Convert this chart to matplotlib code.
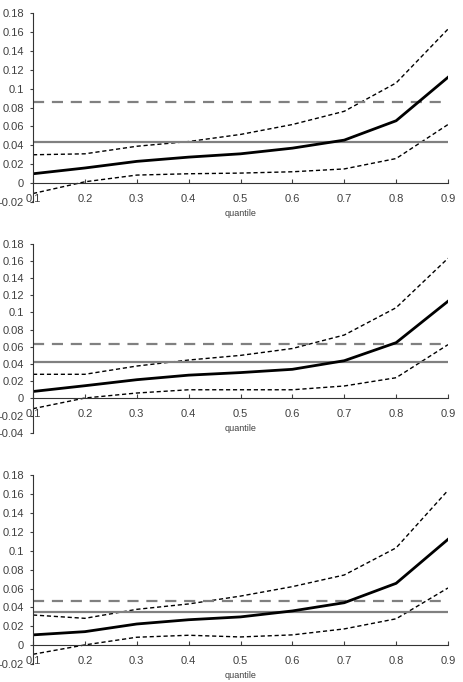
import matplotlib
matplotlib.use("Agg")
import matplotlib.pyplot as plt

plt.rcParams['font.family'] = ['Liberation Sans', 'DejaVu Sans']

quantiles = [0.1, 0.2, 0.3, 0.4, 0.5, 0.6, 0.7, 0.8, 0.9]

p1_coef  = [0.0099, 0.016, 0.023, 0.0275, 0.031, 0.037, 0.0455, 0.066, 0.112]
p1_upper = [0.030, 0.031, 0.039, 0.044, 0.0515, 0.062, 0.076, 0.106, 0.163]
p1_lower = [-0.011, 0.0014, 0.0085, 0.0099, 0.0106, 0.012, 0.015, 0.026, 0.062]
p1_ols, p1_ols_ci = 0.0438, 0.086

p2_coef  = [0.008, 0.0147, 0.0217, 0.027, 0.030, 0.0338, 0.0438, 0.0648, 0.113]
p2_upper = [0.028, 0.028, 0.0376, 0.0446, 0.050, 0.058, 0.0737, 0.1055, 0.163]
p2_lower = [-0.012, 0.0004, 0.0062, 0.010, 0.010, 0.010, 0.0144, 0.024, 0.0625]
p2_ols, p2_ols_ci = 0.042, 0.0636

p3_coef  = [0.011, 0.0144, 0.0225, 0.027, 0.030, 0.0363, 0.045, 0.0655, 0.112]
p3_upper = [0.032, 0.0285, 0.038, 0.0437, 0.052, 0.062, 0.0743, 0.103, 0.1638]
p3_lower = [-0.0095, 0.0004, 0.0085, 0.0106, 0.0088, 0.011, 0.0173, 0.028, 0.0606]
p3_ols, p3_ols_ci = 0.0349, 0.0472

panels = [
    (p1_coef, p1_upper, p1_lower, p1_ols, p1_ols_ci, -0.02, [0.0713, 0.7038, 0.8963, 0.2771]),
    (p2_coef, p2_upper, p2_lower, p2_ols, p2_ols_ci, -0.04, [0.0713, 0.3655, 0.8963, 0.2772]),
    (p3_coef, p3_upper, p3_lower, p3_ols, p3_ols_ci, -0.02, [0.0713, 0.0261, 0.8963, 0.2774]),
]

fig = plt.figure(figsize=(4.63, 6.82), dpi=100)
txt = '#404040'
for coef, up, lo, ols, ols_ci, ymin, rect in panels:
    ax = fig.add_axes(rect)
    ax.plot(quantiles, up, color='black', lw=1.0, dashes=(3, 2))
    ax.plot(quantiles, lo, color='black', lw=1.0, dashes=(3, 2))
    ax.axhline(ols_ci, color='#808080', lw=1.6, dashes=(5, 3.5))
    ax.axhline(ols, color='#808080', lw=1.6)
    ax.plot(quantiles, coef, color='black', lw=2.0)
    ax.set_xlim(0.1, 0.9)
    ax.set_ylim(ymin, 0.18)
    yt = [round(ymin + 0.02 * i, 2) for i in range(int(round((0.18 - ymin) / 0.02)) + 1)]
    ax.set_yticks(yt)
    ax.set_yticklabels([('%g' % v) for v in yt])
    ax.set_xticks(quantiles)
    ax.set_xticklabels([('%g' % v) for v in quantiles])
    ax.spines['top'].set_visible(False)
    ax.spines['right'].set_visible(False)
    ax.spines['bottom'].set_position(('data', 0))
    ax.spines['left'].set_color('#333333')
    ax.spines['bottom'].set_color('#333333')
    ax.tick_params(axis='y', direction='out', length=2.5, labelsize=8, colors=txt, pad=4, width=0.8)
    ax.tick_params(axis='x', direction='in', length=3, labelsize=8, colors=txt, pad=8, width=0.8)
    ax.set_xlabel('quantile', fontsize=6.5, color=txt, labelpad=3.5)
    ax.patch.set_alpha(0)

fig.savefig('out.png', dpi=100)
